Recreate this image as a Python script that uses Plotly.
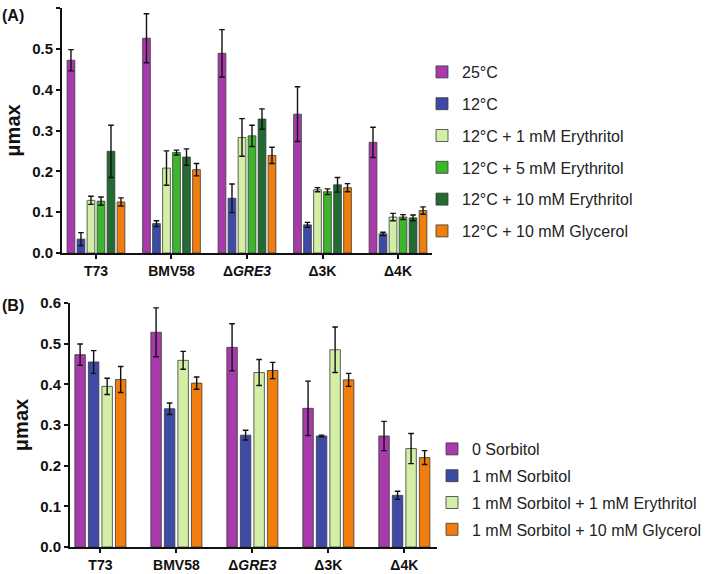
import plotly.graph_objects as go

strains = ["T73", "BMV58", "Δ<i>GRE3</i>", "Δ3K", "Δ4K"]

# Panel A
a_names = ["25°C", "12°C", "12°C + 1 mM Erythritol", "12°C + 5 mM Erythritol",
           "12°C + 10 mM Erythritol", "12°C + 10 mM Glycerol"]
a_25C = [0.472, 0.526, 0.489, 0.340, 0.271]
a_25C_err = [0.026, 0.060, 0.058, 0.067, 0.037]
a_12C = [0.034, 0.072, 0.134, 0.069, 0.047]
a_12C_err = [0.016, 0.007, 0.035, 0.006, 0.004]
a_ery1 = [0.129, 0.208, 0.283, 0.155, 0.088]
a_ery1_err = [0.010, 0.042, 0.046, 0.005, 0.009]
a_ery5 = [0.127, 0.246, 0.287, 0.150, 0.088]
a_ery5_err = [0.010, 0.006, 0.026, 0.007, 0.006]
a_ery10 = [0.249, 0.235, 0.328, 0.167, 0.086]
a_ery10_err = [0.064, 0.020, 0.025, 0.018, 0.007]
a_gly10 = [0.125, 0.204, 0.239, 0.160, 0.104]
a_gly10_err = [0.010, 0.015, 0.020, 0.010, 0.009]

# Panel B
b_names = ["0 Sorbitol", "1 mM Sorbitol", "1 mM Sorbitol + 1 mM Erythritol",
           "1 mM Sorbitol + 10 mM Glycerol"]
b_sorb0 = [0.473, 0.528, 0.491, 0.341, 0.273]
b_sorb0_err = [0.026, 0.060, 0.058, 0.067, 0.036]
b_sorb1 = [0.455, 0.340, 0.275, 0.273, 0.127]
b_sorb1_err = [0.028, 0.014, 0.012, 0.002, 0.010]
b_sorb1_ery = [0.395, 0.459, 0.429, 0.485, 0.242]
b_sorb1_ery_err = [0.020, 0.022, 0.032, 0.056, 0.037]
b_sorb1_gly = [0.412, 0.403, 0.434, 0.411, 0.220]
b_sorb1_gly_err = [0.032, 0.015, 0.020, 0.016, 0.017]

purple = "#A83AAC"
blue = "#3D4BA6"
lgreen = "#D3EFA6"
green = "#3DB62C"
dgreen = "#236B33"
orange = "#F07D0C"

FONT = "Arial, Liberation Sans, sans-serif"
W, H = 709, 574

fig = go.Figure()
xs = list(range(len(strains)))

def add_group(names, vals, errs, colors, xaxis, yaxis, legend, slot, gap):
    n = len(names)
    group = slot * n
    for i, (nm, v, e, c) in enumerate(zip(names, vals, errs, colors)):
        fig.add_trace(go.Bar(
            x=xs, y=v, name=nm, xaxis=xaxis, yaxis=yaxis, legend=legend,
            legendgroup=legend + str(i),
            width=slot - gap, offset=-group / 2 + i * slot + gap / 2,
            marker=dict(color=c, line=dict(color="#3a3a3a", width=0.8)),
            error_y=dict(type="data", array=e, visible=True, color="#111111",
                         thickness=1.4, width=2.8),
        ))

add_group(a_names,
          [a_25C, a_12C, a_ery1, a_ery5, a_ery10, a_gly10],
          [a_25C_err, a_12C_err, a_ery1_err, a_ery5_err, a_ery10_err, a_gly10_err],
          [purple, blue, lgreen, green, dgreen, orange],
          "x", "y", "legend", 0.1325, 0.03)
add_group(b_names,
          [b_sorb0, b_sorb1, b_sorb1_ery, b_sorb1_gly],
          [b_sorb0_err, b_sorb1_err, b_sorb1_ery_err, b_sorb1_gly_err],
          [purple, blue, lgreen, orange],
          "x2", "y2", "legend2", 0.178, 0.04)

def px_x(p):
    return p / W

def px_y(p):
    return 1 - p / H

tickfont = dict(family=FONT, size=14, color="#111111", weight="bold")
ytickfont = dict(family=FONT, size=15, color="#111111", weight="bold")
xcommon = dict(tickmode="array", tickvals=xs, ticktext=strains, showline=True,
               linecolor="#111111", linewidth=2, ticks="outside", ticklen=4,
               tickwidth=1.5, tickcolor="#111111", tickfont=tickfont,
               showgrid=False, zeroline=False, fixedrange=True, automargin=False)
ycommon = dict(range=[0, 0.6], tickvals=[0, 0.1, 0.2, 0.3, 0.4, 0.5, 0.6],
               tickformat=".1f", showline=True, linecolor="#111111", linewidth=2,
               ticks="outside", ticklen=4, tickwidth=1.5, tickcolor="#111111",
               tickfont=ytickfont, showgrid=False, zeroline=False, automargin=False,
               title=dict(text="μmax", font=dict(family=FONT, size=20, color="#111111",
                                                 weight="bold"), standoff=6))

fig.update_layout(
    width=W, height=H,
    margin=dict(l=0, r=0, t=0, b=0),
    paper_bgcolor="white", plot_bgcolor="white",
    barmode="group",
    font=dict(family=FONT, color="#111111"),
    xaxis=dict(domain=[px_x(62), px_x(432)], range=[-0.45, 4.45], anchor="y", **xcommon),
    yaxis=dict(domain=[px_y(253), px_y(8)], anchor="x", **ycommon),
    xaxis2=dict(domain=[px_x(70), px_x(437)], range=[-0.4, 4.43], anchor="y2", **xcommon),
    yaxis2=dict(domain=[px_y(547), px_y(303)], anchor="x2", **ycommon),
    legend=dict(x=px_x(422), y=px_y(55), xanchor="left", yanchor="top",
                font=dict(family=FONT, size=16, color="#222222"),
                tracegroupgap=8, bgcolor="rgba(0,0,0,0)", itemclick=False),
    legend2=dict(x=px_x(432), y=px_y(432), xanchor="left", yanchor="top",
                 font=dict(family=FONT, size=16, color="#222222"),
                 tracegroupgap=3, bgcolor="rgba(0,0,0,0)", itemclick=False),
    annotations=[
        dict(text="<b>(A)</b>", x=0, y=px_y(15), xref="paper", yref="paper",
             xanchor="left", yanchor="middle", showarrow=False,
             font=dict(family=FONT, size=16, color="#111111")),
        dict(text="<b>(B)</b>", x=0, y=px_y(305), xref="paper", yref="paper",
             xanchor="left", yanchor="middle", showarrow=False,
             font=dict(family=FONT, size=16, color="#111111")),
    ],
    showlegend=True,
)

fig.write_html("out.html", config={"displayModeBar": False},
               post_script="document.body.style.margin='0';")
